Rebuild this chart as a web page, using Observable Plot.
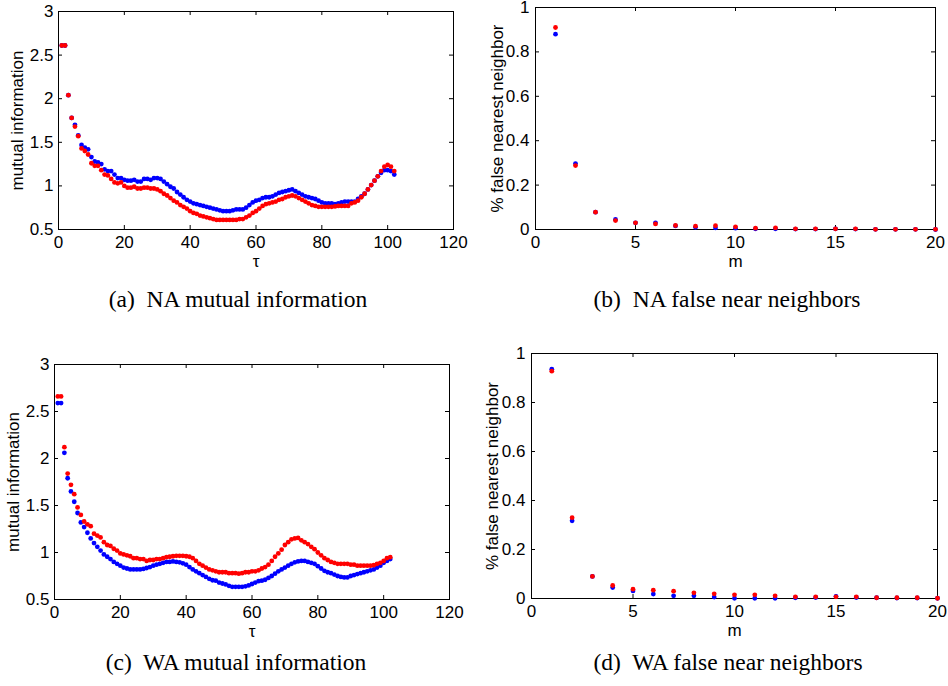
<!DOCTYPE html>
<html>
<head>
<meta charset="utf-8">
<script src="https://cdn.jsdelivr.net/npm/d3@7"></script>
<script src="https://cdn.jsdelivr.net/npm/@observablehq/plot@0.6"></script>
<style>
  html, body { margin: 0; padding: 0; background: #fff; }
  #root { position: relative; width: 948px; height: 686px; overflow: hidden; background: #fff; }
  #root svg { position: absolute; }
  .cap { position: absolute; font-family: "Liberation Serif", "Times New Roman", serif; font-size: 23.5px; color: #000; white-space: pre; transform: translate(-50%, -50%); }
</style>
</head>
<body>
<div id="root"></div>
<script>
// ---- data ----
const naMiBlue = [2.61, 2.61, 2.04, 1.78, 1.70, 1.58, 1.47, 1.44, 1.42, 1.33,
  1.28, 1.27, 1.25, 1.19, 1.17, 1.17, 1.13, 1.09, 1.09, 1.07,
  1.06, 1.06, 1.07, 1.05, 1.05, 1.08, 1.08, 1.07, 1.09, 1.09,
  1.08, 1.05, 1.02, 0.99, 0.97, 0.93, 0.90, 0.87, 0.84, 0.82,
  0.80, 0.79, 0.78, 0.77, 0.76, 0.75, 0.74, 0.73, 0.72, 0.71,
  0.71, 0.71, 0.72, 0.73, 0.73, 0.73, 0.75, 0.78, 0.81, 0.83,
  0.84, 0.86, 0.87, 0.87, 0.88, 0.90, 0.92, 0.93, 0.94, 0.95,
  0.96, 0.94, 0.92, 0.90, 0.88, 0.87, 0.86, 0.85, 0.83, 0.81,
  0.80, 0.80, 0.80, 0.79, 0.80, 0.81, 0.82, 0.82, 0.82, 0.82,
  0.85, 0.88, 0.91, 0.96, 1.01, 1.06, 1.11, 1.15, 1.18, 1.18,
  1.17, 1.13];
const naMiRed = [2.61, 2.61, 2.04, 1.78, 1.68, 1.57, 1.43, 1.40, 1.36, 1.26,
  1.23, 1.23, 1.18, 1.13, 1.12, 1.08, 1.04, 1.03, 1.04, 1.00,
  0.98, 0.98, 0.99, 0.97, 0.97, 0.98, 0.98, 0.97, 0.97, 0.96,
  0.94, 0.91, 0.89, 0.86, 0.83, 0.81, 0.78, 0.76, 0.74, 0.71,
  0.69, 0.68, 0.66, 0.65, 0.64, 0.63, 0.62, 0.61, 0.61, 0.61,
  0.61, 0.61, 0.61, 0.61, 0.62, 0.62, 0.64, 0.66, 0.69, 0.71,
  0.74, 0.77, 0.79, 0.80, 0.81, 0.82, 0.84, 0.85, 0.87, 0.88,
  0.89, 0.88, 0.86, 0.84, 0.82, 0.80, 0.78, 0.77, 0.76, 0.76,
  0.76, 0.76, 0.76, 0.765, 0.77, 0.77, 0.77, 0.77, 0.80, 0.81,
  0.83, 0.87, 0.91, 0.96, 1.01, 1.06, 1.11, 1.17, 1.22, 1.24,
  1.22, 1.17];
const waMiBlue = [2.59, 2.59, 2.06, 1.79, 1.65, 1.54, 1.42, 1.32, 1.27, 1.21,
  1.15, 1.10, 1.06, 1.02, 0.98, 0.955, 0.93, 0.90, 0.88, 0.86,
  0.84, 0.83, 0.82, 0.82, 0.82, 0.82, 0.825, 0.835, 0.845, 0.86,
  0.87, 0.88, 0.89, 0.90, 0.90, 0.905, 0.90, 0.895, 0.885, 0.87,
  0.845, 0.82, 0.80, 0.78, 0.76, 0.74, 0.72, 0.705, 0.70, 0.68,
  0.67, 0.66, 0.645, 0.635, 0.635, 0.635, 0.635, 0.64, 0.65, 0.665,
  0.68, 0.695, 0.70, 0.71, 0.73, 0.75, 0.775, 0.80, 0.82, 0.84,
  0.86, 0.88, 0.895, 0.905, 0.91, 0.91, 0.90, 0.89, 0.88, 0.855,
  0.83, 0.805, 0.79, 0.78, 0.765, 0.75, 0.74, 0.735, 0.735, 0.75,
  0.76, 0.77, 0.78, 0.79, 0.80, 0.81, 0.82, 0.84, 0.86, 0.89,
  0.91, 0.93];
const waMiRed = [2.66, 2.66, 2.12, 1.84, 1.72, 1.62, 1.48, 1.40, 1.33, 1.30,
  1.28, 1.20, 1.18, 1.16, 1.11, 1.08, 1.07, 1.04, 1.02, 0.99,
  0.98, 0.97, 0.96, 0.94, 0.94, 0.93, 0.93, 0.91, 0.92, 0.92,
  0.93, 0.93, 0.94, 0.95, 0.955, 0.96, 0.965, 0.965, 0.965, 0.96,
  0.955, 0.94, 0.91, 0.88, 0.86, 0.84, 0.82, 0.81, 0.80, 0.79,
  0.79, 0.79, 0.78, 0.78, 0.78, 0.775, 0.78, 0.79, 0.79, 0.80,
  0.80, 0.81, 0.83, 0.845, 0.87, 0.91, 0.955, 0.99, 1.03, 1.08,
  1.11, 1.14, 1.15, 1.155, 1.13, 1.11, 1.09, 1.06, 1.035, 1.00,
  0.97, 0.94, 0.92, 0.90, 0.89, 0.88, 0.88, 0.88, 0.88, 0.87,
  0.87, 0.86, 0.86, 0.86, 0.86, 0.86, 0.865, 0.88, 0.89, 0.91,
  0.94, 0.95];
const embedDims = [1, 2, 3, 4, 5, 6, 7, 8, 9, 10, 11, 12, 13, 14, 15, 16, 17, 18, 19, 20];
const naFnnBlue = [0.88, 0.297, 0.078, 0.045, 0.030, 0.030, 0.016, 0.010, 0.007, 0.006,
  0.003, 0.003, 0.002, 0.002, 0.003, 0.002, 0.001, 0.001, 0.001, 0.000];
const naFnnRed = [0.91, 0.288, 0.078, 0.040, 0.030, 0.025, 0.018, 0.015, 0.017, 0.012,
  0.006, 0.007, 0.003, 0.003, 0.003, 0.003, 0.001, 0.001, 0.001, 0.001];
const waFnnBlue = [0.936, 0.317, 0.090, 0.045, 0.031, 0.018, 0.011, 0.011, 0.006, 0.001,
  0.001, 0.001, 0.003, 0.004, 0.009, 0.004, 0.003, 0.002, 0.002, 0.001];
const waFnnRed = [0.928, 0.330, 0.090, 0.053, 0.038, 0.034, 0.030, 0.023, 0.019, 0.015,
  0.015, 0.011, 0.007, 0.007, 0.007, 0.007, 0.003, 0.003, 0.003, 0.001];

const miXTicks = [0, 20, 40, 60, 80, 100, 120];
const miYTicks = [0.5, 1, 1.5, 2, 2.5, 3];
const fnnXTicks = [0, 5, 10, 15, 20];
const fnnYTicks = [0, 0.2, 0.4, 0.6, 0.8, 1];

const captions = [
  {text: "(a)  NA mutual information", x: 238, y: 299},
  {text: "(b)  NA false near neighbors", x: 727, y: 299},
  {text: "(c)  WA mutual information", x: 236, y: 662},
  {text: "(d)  WA false near neighbors", x: 728, y: 662}
];

// ---- drawing ----
const root = document.getElementById("root");
const fmt = d => String(d);

function panel(o) {
  const xs = o.xs || o.blue.map((_, i) => i + 1);
  const blueRows = o.blue.map((v, i) => ({x: xs[i], y: v}));
  const redRows = o.red.map((v, i) => ({x: xs[i], y: v}));
  const ph = o.h - o.mt - o.mb;
  const pw = o.w - o.ml - o.mr;
  const tl = 4;
  const svg = Plot.plot({
    width: o.w, height: o.h,
    marginLeft: o.ml, marginRight: o.mr, marginTop: o.mt, marginBottom: o.mb,
    x: {domain: o.xDomain},
    y: {domain: o.yDomain},
    style: {fontFamily: "'Liberation Sans', Arial, Helvetica, sans-serif", fontSize: "17px", background: "transparent", color: "black", overflow: "visible"},
    marks: [
      Plot.frame({stroke: "black", strokeWidth: 1}),
      Plot.tickX(o.xTicks, {x: d => d, insetTop: ph - tl, stroke: "black"}),
      Plot.tickX(o.xTicks, {x: d => d, insetBottom: ph - tl, stroke: "black"}),
      Plot.tickY(o.yTicks, {y: d => d, insetRight: pw - tl, stroke: "black"}),
      Plot.tickY(o.yTicks, {y: d => d, insetLeft: pw - tl, stroke: "black"}),
      Plot.axisX(o.xTicks, {tickSize: 0, tickPadding: 6, tickFormat: fmt, label: o.xLabel, labelAnchor: "center", labelArrow: "none", labelOffset: 37, fill: "black"}),
      Plot.axisY(o.yTicks, {tickSize: 0, tickPadding: o.yPad, tickFormat: fmt, label: o.yLabel, labelAnchor: "center", labelArrow: "none", labelOffset: o.yLabelOffset, fill: "black"}),
      Plot.dot(blueRows, {x: "x", y: "y", r: 2.4, fill: "#0000ff", clip: false}),
      Plot.dot(redRows, {x: "x", y: "y", r: 2.4, fill: "#ff0000", clip: false})
    ]
  });
  svg.style.left = o.left + "px";
  svg.style.top = o.top + "px";
  root.appendChild(svg);
}

panel({blue: naMiBlue, red: naMiRed, xDomain: [0, 120], yDomain: [0.5, 3],
  xTicks: miXTicks, yTicks: miYTicks, xLabel: "τ", yLabel: "mutual information",
  left: 0, top: 0, w: 474, h: 275, ml: 58, mr: 21, mt: 11, mb: 46, yPad: 5, yLabelOffset: 48});
panel({xs: embedDims, blue: naFnnBlue, red: naFnnRed, xDomain: [0, 20], yDomain: [0, 1],
  xTicks: fnnXTicks, yTicks: fnnYTicks, xLabel: "m", yLabel: "% false nearest neighbor",
  left: 474, top: 0, w: 474, h: 275, ml: 61, mr: 13, mt: 7, mb: 46, yPad: 6, yLabelOffset: 45});
panel({blue: waMiBlue, red: waMiRed, xDomain: [0, 120], yDomain: [0.5, 3],
  xTicks: miXTicks, yTicks: miYTicks, xLabel: "τ", yLabel: "mutual information",
  left: 0, top: 343, w: 474, h: 300, ml: 54, mr: 25, mt: 21, mb: 44, yPad: 5, yLabelOffset: 48});
panel({xs: embedDims, blue: waFnnBlue, red: waFnnRed, xDomain: [0, 20], yDomain: [0, 1],
  xTicks: fnnXTicks, yTicks: fnnYTicks, xLabel: "m", yLabel: "% false nearest neighbor",
  left: 474, top: 343, w: 474, h: 300, ml: 57, mr: 11, mt: 10, mb: 45, yPad: 6, yLabelOffset: 46});

for (const c of captions) {
  const d = document.createElement("div");
  d.className = "cap";
  d.textContent = c.text;
  d.style.left = c.x + "px";
  d.style.top = c.y + "px";
  root.appendChild(d);
}
</script>
</body>
</html>
